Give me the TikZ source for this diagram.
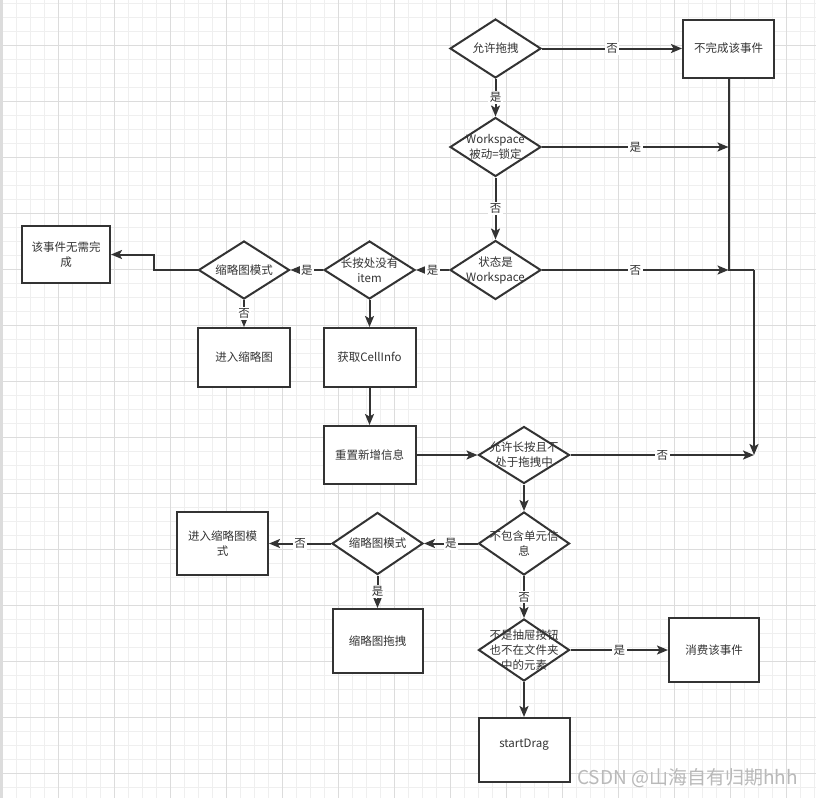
\documentclass[tikz,border=0pt]{standalone}
\usepackage{fontspec}
\setmainfont{Noto Sans CJK SC}
\usetikzlibrary{shapes.geometric,arrows.meta}
\definecolor{dk}{HTML}{333333}
\definecolor{gmin}{HTML}{EFEFEF}
\definecolor{gmaj}{HTML}{DCDCDC}
\begin{document}
\begin{tikzpicture}[x=1pt,y=-1pt,
  font=\fontsize{11.5}{15}\selectfont,
  box/.style={draw=dk, line width=2pt, fill=white, align=center, inner sep=2pt, text=dk},
  dia/.style={diamond, draw=dk, line width=2pt, fill=white, inner sep=0pt, minimum width=91pt, label={[align=center, text=dk]center:#1}},
  wire/.style={draw=dk, line width=2pt},
  arr/.style={wire, -{Stealth[length=11pt,width=9pt,inset=2.5pt]}},
  lab/.style={fill=white, inner sep=1.5pt, text=dk}]
\useasboundingbox (0,0) rectangle (816,798);
\fill[white] (0,0) rectangle (816,798);
% grid
\foreach \i in {0,...,58} \draw[gmin, line width=0.9pt] ({2.7+14*\i},0) -- ({2.7+14*\i},798);
\foreach \j in {0,...,56} \draw[gmin, line width=0.9pt] (0,{3.3+14*\j}) -- (816,{3.3+14*\j});
\foreach \i in {0,...,14} \draw[gmaj, line width=0.9pt] ({2.7+56*\i},0) -- ({2.7+56*\i},798);
\foreach \j in {0,...,13} \draw[gmaj, line width=0.9pt] (0,{45.3+56*\j}) -- (816,{45.3+56*\j});
\fill[gmaj] (0,0) rectangle (2,798);

% nodes
\node[dia={允许拖拽}, minimum height=59pt] (d1) at (495.5,48.5) {};
\node[box, minimum width=91pt, minimum height=58pt] (b1) at (728.5,48.5) {不完成该事件};
\node[dia={Workspace\\被动=锁定}, minimum height=59pt] (d2) at (495.5,147) {};
\node[dia={状态是\\Workspace}, minimum height=59pt] (d3) at (495.5,270) {};
\node[dia={长按处没有\\item}, minimum height=58pt] (d4) at (369.5,270) {};
\node[dia={缩略图模式}, minimum height=58pt] (d5) at (244,270) {};
\node[box, minimum width=88pt, minimum height=57pt] (be) at (66,254.5) {该事件无需完\\成};
\node[box, minimum width=92pt, minimum height=59pt] (bt) at (244,357.5) {进入缩略图};
\node[box, minimum width=92pt, minimum height=59pt] (bc) at (369.5,357.5) {获取CellInfo};
\node[box, minimum width=92pt, minimum height=58pt] (br) at (369.5,455) {重置新增信息};
\node[dia={允许长按且不\\处于拖拽中}, minimum height=57pt] (d6) at (524,455) {};
\node[dia={不包含单元信\\息}, minimum height=63pt] (d7) at (524,543.5) {};
\node[dia={缩略图模式}, minimum height=62pt] (d8) at (377.5,543.5) {};
\node[box, minimum width=91pt, minimum height=63pt] (ben) at (222.5,543.5) {进入缩略图模\\式};
\node[box, minimum width=90pt, minimum height=64pt] (bd) at (377.5,641) {缩略图拖拽};
\node[dia={不是抽屉按钮\\也不在文件夹\\中的元素}, minimum height=62pt] (d9) at (524,650) {};
\node[box, minimum width=90pt, minimum height=64pt] (bco) at (714,650) {消费该事件};
\node[box, minimum width=91pt, minimum height=64pt, text depth=14pt] (bs) at (524,750) {startDrag};

% junction coordinates
\coordinate (j1) at (b1.south |- d2.east);
\coordinate (j2) at (b1.south |- d3.east);
\coordinate (j3) at (754,270);
\coordinate (j4) at (754,455);
\coordinate (j5) at (154,270);
\coordinate (j6) at (154,254.5);

% connectors
\draw[arr] (d1.east) -- node[lab]{否} (b1.west);
\draw[arr] (d1.south) -- node[lab]{是} (d2.north);
\draw[arr] (d2.east) -- node[lab]{是} (j1);
\draw[arr] (d2.south) -- node[lab]{否} (d3.north);
\draw[arr] (d3.east) -- node[lab]{否} (j2);
\draw[wire] (b1.south) -- (j2) -- (j3);
\draw[arr] (j3) -- (j4);
\draw[arr] (d3.west) -- node[lab]{是} (d4.east);
\draw[arr] (d4.west) -- node[lab]{是} (d5.east);
\draw[arr] (d5.west) -- (j5) -- (j6) -- (be.east);
\draw[arr] (d5.south) -- node[lab]{否} (bt.north);
\draw[arr] (d4.south) -- (bc.north);
\draw[arr] (bc.south) -- (br.north);
\draw[arr] (br.east) -- (d6.west);
\draw[arr] (d6.east) -- node[lab]{否} (j4);
\draw[arr] (d6.south) -- (d7.north);
\draw[arr] (d7.west) -- node[lab]{是} (d8.east);
\draw[arr] (d8.west) -- node[lab]{否} (ben.east);
\draw[arr] (d8.south) -- node[lab]{是} (bd.north);
\draw[arr] (d7.south) -- node[lab]{否} (d9.north);
\draw[arr] (d9.east) -- node[lab]{是} (bco.west);
\draw[arr] (d9.south) -- (bs.north);

% watermark
\node[anchor=west, text=gray!55, font=\fontsize{19}{19}\selectfont, inner sep=0pt] (wm) at (577,778) {CSDN @山海自有归期hhh};
\end{tikzpicture}
\end{document}
